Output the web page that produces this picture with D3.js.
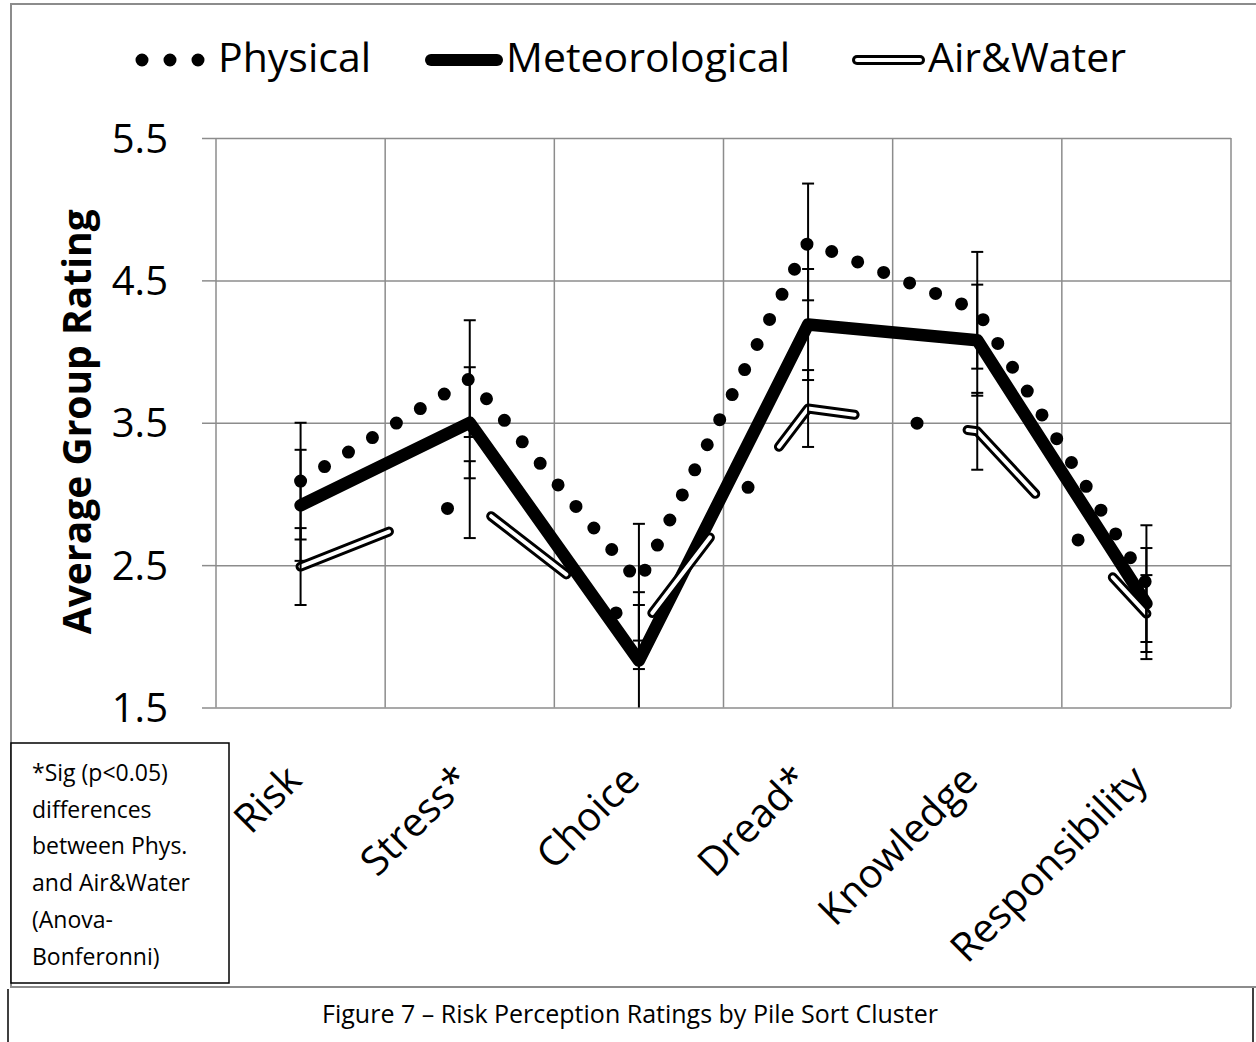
<!DOCTYPE html>
<html>
<head>
<meta charset="utf-8">
<script src="https://cdn.jsdelivr.net/npm/d3@7"></script>
<style>
  body { margin: 0; background: #fff; }
  text { font-family: "Open Sans", "Noto Sans", sans-serif; fill: #000; }
</style>
</head>
<body>
<div id="chart"></div>
<script>
// values
var categories = ["Risk", "Stress*", "Choice", "Dread*", "Knowledge", "Responsibility"];
var physical = [3.09, 3.81, 2.38, 4.77, 4.29, 2.37];
var meteorological = [2.92, 3.50, 1.83, 4.19, 4.08, 2.23];
var airWater = [2.49, 2.96, 2.04, 3.60, 3.44, 2.16];
var physicalErr = [0.41, 0.41, 0.41, 0.41, 0.41, 0.41];
var meteorologicalErr = [0.39, 0.39, 0.39, 0.39, 0.39, 0.39];
var airWaterErr = [0.27, 0.27, 0.27, 0.27, 0.27, 0.27];
var yTicks = [1.5, 2.5, 3.5, 4.5, 5.5];
var seriesNames = ["Physical", "Meteorological", "Air&Water"];
var noteLines = ["*Sig (p<0.05)", "differences", "between Phys.", "and Air&Water", "(Anova-", "Bonferonni)"];
var caption = "Figure 7 \u2013 Risk Perception Ratings by Pile Sort Cluster";

var width = 1256, height = 1042;
var plot = {left: 216, right: 1231, top: 138, bottom: 707.5};
var gridColor = "#8c8c8c";

var svg = d3.select("#chart").append("svg")
	.attr("width", width)
	.attr("height", height);

svg.append("rect").attr("width", width).attr("height", height).attr("fill", "#fff");

// outer chart border
svg.append("rect")
	.attr("x", 11).attr("y", 4)
	.attr("width", width + 20).attr("height", 983)
	.attr("fill", "none")
	.attr("stroke", gridColor)
	.attr("stroke-width", 2);

var x = d3.scaleBand()
	.domain(categories)
	.range([plot.left, plot.right]);

var y = d3.scaleLinear()
	.domain([1.5, 5.5])
	.range([plot.bottom, plot.top]);

function cx(i) { return x(categories[i]) + x.bandwidth() / 2; }

// horizontal grid + y labels
var yGrid = svg.append("g")
	.attr("transform", "translate(" + plot.left + ",0)")
	.call(d3.axisLeft(y).tickValues(yTicks).tickSize(-(plot.right - plot.left)).tickFormat(""));
yGrid.select(".domain").remove();
yGrid.selectAll("line").attr("stroke", gridColor).attr("stroke-width", 1.5);

var yAxis = svg.append("g")
	.attr("transform", "translate(" + plot.left + ",0)")
	.call(d3.axisLeft(y).tickValues(yTicks).tickSize(14).tickPadding(34).tickFormat(d3.format(".1f")));
yAxis.select(".domain").remove();
yAxis.selectAll("line").attr("stroke", gridColor).attr("stroke-width", 1.5);
yAxis.selectAll("text")
	.attr("dy", "0.35em")
	.style("font-size", "40px")
	.style("font-family", "'Open Sans', sans-serif")
	.attr("fill", "#000");

// vertical grid at category boundaries
var bounds = d3.range(categories.length + 1).map(function(i) { return plot.left + i * x.step(); });
svg.append("g").selectAll("line")
	.data(bounds)
	.enter().append("line")
	.attr("x1", function(d) { return d; })
	.attr("x2", function(d) { return d; })
	.attr("y1", plot.top)
	.attr("y2", plot.bottom)
	.attr("stroke", gridColor)
	.attr("stroke-width", 1.5);

// x labels
var xAxis = svg.append("g")
	.attr("transform", "translate(0," + plot.bottom + ")")
	.call(d3.axisBottom(x).tickSize(0));
xAxis.select(".domain").remove();
xAxis.selectAll("text")
	.attr("y", 0).attr("dy", 0)
	.attr("transform", "translate(3,75) rotate(-45)")
	.style("text-anchor", "end")
	.style("font-size", "40px")
	.style("font-family", "'Open Sans', sans-serif")
	.attr("fill", "#000");

// y title
svg.append("text")
	.attr("transform", "translate(91," + ((plot.top + plot.bottom) / 2 - 1) + ") rotate(-90)")
	.attr("text-anchor", "middle")
	.style("font-size", "39px")
	.style("font-weight", "bold")
	.text("Average Group Rating");

var line = d3.line()
	.x(function(d, i) { return cx(i); })
	.y(function(d) { return y(d); });

// Physical: round dots
svg.append("path")
	.datum(physical)
	.attr("d", line)
	.attr("fill", "none")
	.attr("stroke", "#000")
	.attr("stroke-width", 13)
	.attr("stroke-linecap", "round")
	.attr("stroke-dasharray", "0 28");

// Meteorological: thick solid
svg.append("path")
	.datum(meteorological)
	.attr("d", line)
	.attr("fill", "none")
	.attr("stroke", "#000")
	.attr("stroke-width", 12.5)
	.attr("stroke-linecap", "round")
	.attr("stroke-linejoin", "round");

// Air&Water: long dash dot, double line
var awDash = "95 114";
svg.append("path")
	.datum(airWater)
	.attr("d", line)
	.attr("fill", "none")
	.attr("stroke", "#000")
	.attr("stroke-width", 10)
	.attr("stroke-linecap", "round")
	.attr("stroke-linejoin", "round")
	.attr("stroke-dasharray", awDash);
svg.append("path")
	.datum(airWater)
	.attr("d", line)
	.attr("fill", "none")
	.attr("stroke", "#fff")
	.attr("stroke-width", 4)
	.attr("stroke-linecap", "round")
	.attr("stroke-linejoin", "round")
	.attr("stroke-dasharray", awDash);
svg.append("path")
	.datum(airWater)
	.attr("d", line)
	.attr("fill", "none")
	.attr("stroke", "#000")
	.attr("stroke-width", 13)
	.attr("stroke-linecap", "round")
	.attr("stroke-dasharray", "0 209")
	.attr("stroke-dashoffset", 51);

// error bars
function errorBars(vals, errs) {
	var g = svg.append("g").attr("stroke", "#000").attr("stroke-width", 2);
	vals.forEach(function(v, i) {
		var lo = v - errs[i], hi = v + errs[i];
		var loC = Math.max(lo, 1.5), hiC = Math.min(hi, 5.5);
		var xx = cx(i);
		g.append("line").attr("x1", xx).attr("x2", xx).attr("y1", y(loC)).attr("y2", y(hiC));
		if (lo >= 1.5) g.append("line").attr("x1", xx - 6).attr("x2", xx + 6).attr("y1", y(lo)).attr("y2", y(lo));
		if (hi <= 5.5) g.append("line").attr("x1", xx - 6).attr("x2", xx + 6).attr("y1", y(hi)).attr("y2", y(hi));
	});
}
errorBars(physical, physicalErr);
errorBars(meteorological, meteorologicalErr);
errorBars(airWater, airWaterErr);

// legend
var leg = svg.append("g");
leg.append("path")
	.attr("d", "M142,60L199,60")
	.attr("stroke", "#000").attr("stroke-width", 13)
	.attr("stroke-linecap", "round").attr("stroke-dasharray", "0 28");
leg.append("line")
	.attr("x1", 431).attr("x2", 497).attr("y1", 60).attr("y2", 60)
	.attr("stroke", "#000").attr("stroke-width", 12).attr("stroke-linecap", "round");
leg.append("line")
	.attr("x1", 857).attr("x2", 920).attr("y1", 60).attr("y2", 60)
	.attr("stroke", "#000").attr("stroke-width", 10).attr("stroke-linecap", "round");
leg.append("line")
	.attr("x1", 857).attr("x2", 920).attr("y1", 60).attr("y2", 60)
	.attr("stroke", "#fff").attr("stroke-width", 4).attr("stroke-linecap", "round");
var legX = [218, 506, 928];
leg.selectAll("text.legtext")
	.data(seriesNames)
	.enter().append("text")
	.attr("class", "legtext")
	.attr("x", function(d, i) { return legX[i]; })
	.attr("y", 72)
	.style("font-size", "41px")
	.text(function(d) { return d; });

// note box
svg.append("rect")
	.attr("x", 11).attr("y", 743)
	.attr("width", 218).attr("height", 240)
	.attr("fill", "#fff")
	.attr("stroke", "#000")
	.attr("stroke-width", 1.5);
svg.append("g").selectAll("text")
	.data(noteLines)
	.enter().append("text")
	.attr("x", 32)
	.attr("y", function(d, i) { return 781 + i * 36.7; })
	.style("font-size", "23px")
	.text(function(d) { return d; });

// caption box
svg.append("line").attr("x1", 8).attr("x2", 8).attr("y1", 989).attr("y2", height)
	.attr("stroke", "#000").attr("stroke-width", 1.5);
svg.append("line").attr("x1", 1253).attr("x2", 1253).attr("y1", 988).attr("y2", height)
	.attr("stroke", "#000").attr("stroke-width", 1.5);
svg.append("text")
	.attr("x", 630)
	.attr("y", 1023)
	.attr("text-anchor", "middle")
	.style("font-size", "25px")
	.text(caption);
</script>
</body>
</html>
